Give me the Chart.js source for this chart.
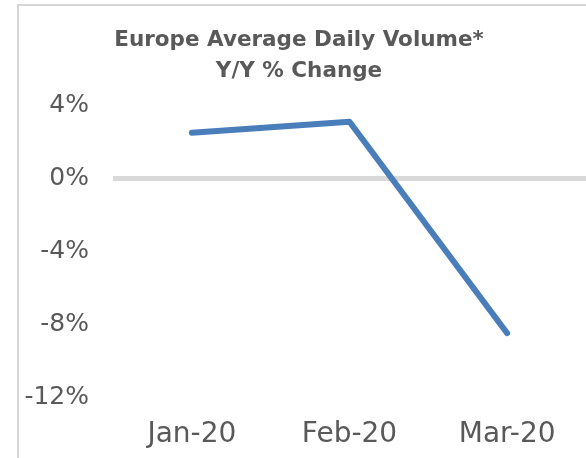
<!DOCTYPE html>
<html>
<head>
<meta charset="utf-8">
<script src="https://cdn.jsdelivr.net/npm/chart.js@4/dist/chart.umd.min.js"></script>
<style>
  html, body { margin: 0; padding: 0; background: #fff; }
  #frame { position: absolute; left: 17px; top: 4px; width: 620px; height: 500px;
           border-left: 2px solid #d6d6d6; border-top: 2px solid #d6d6d6; }
  #wrap { position: absolute; left: 0; top: 0; width: 586px; height: 458px; }
</style>
</head>
<body>
<div id="frame"></div>
<div id="wrap"><canvas id="c" width="586" height="458"></canvas></div>
<script>
const titleLines = ["Europe Average Daily Volume*", "Y/Y % Change"];
const categories = ["Jan-20", "Feb-20", "Mar-20"];
const yoyChange = [2.5, 3.1, -8.5];
const yTicks = [4, 0, -4, -8, -12];

new Chart(document.getElementById('c'), {
  type: 'line',
  data: {
    labels: categories,
    datasets: [{
      data: yoyChange,
      borderColor: '#4A7EBB',
      borderWidth: 6,
      pointRadius: 0,
      borderCapStyle: 'round',
      borderJoinStyle: 'round',
      tension: 0,
      fill: false
    }]
  },
  options: {
    responsive: false,
    animation: false,
    layout: { padding: { left: 12, right: 0, top: 5, bottom: 8 } },
    plugins: {
      legend: { display: false },
      tooltip: { enabled: false },
      title: {
        display: true,
        text: titleLines,
        color: '#595959',
        font: { family: "'DejaVu Sans'", size: 21.5, weight: 'bold', lineHeight: 1.45 },
        padding: { top: 20, bottom: 18 }
      }
    },
    scales: {
      x: {
        offset: true,
        grid: { display: false, drawTicks: false },
        border: { display: false },
        ticks: { color: '#595959', font: { family: "'DejaVu Sans'", size: 28 }, padding: 21, maxRotation: 0, autoSkip: false },
        afterFit: (axis) => { axis.height = 53; }
      },
      y: {
        min: Math.min(...yTicks),
        max: Math.max(...yTicks),
        afterBuildTicks: (axis) => { axis.ticks = yTicks.map(v => ({ value: v })); },
        afterFit: (axis) => { axis.width = 101; },
        grid: {
          drawTicks: false,
          color: (ctx) => ctx.tick && ctx.tick.value === 0 ? '#d9d9d9' : 'rgba(0,0,0,0)',
          lineWidth: (ctx) => ctx.tick && ctx.tick.value === 0 ? 5 : 0
        },
        border: { display: false },
        ticks: {
          color: '#595959',
          font: { family: "'DejaVu Sans'", size: 25 },
          padding: 24,
          callback: (v) => v + '%'
        }
      }
    }
  }
});
</script>
</body>
</html>
